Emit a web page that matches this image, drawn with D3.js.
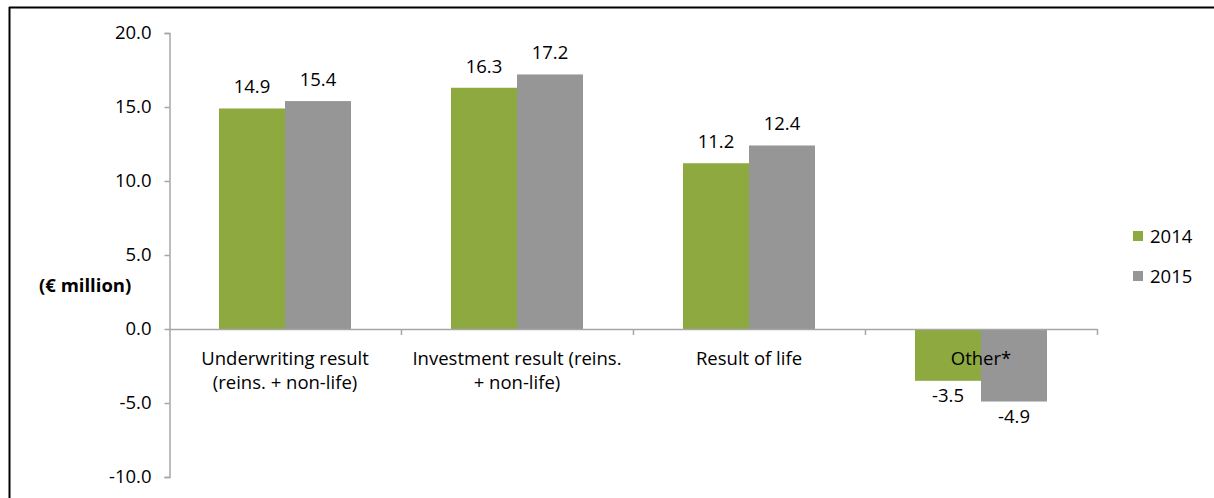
<!DOCTYPE html>
<html><head><meta charset="utf-8">
<script src="https://cdn.jsdelivr.net/npm/d3@7"></script>
<style>
body{margin:0;background:#fff;}
svg{display:block;font-family:"Open Sans",sans-serif;}
</style></head>
<body><svg id="c" width="1214" height="498"></svg>
<script>
const categories = [["Underwriting result","(reins. + non-life)"],["Investment result (reins.","+ non-life)"],["Result of life"],["Other*"]];
const series = ["2014","2015"];
const values2014 = [14.9, 16.3, 11.2, -3.5];
const values2015 = [15.4, 17.2, 12.4, -4.9];
const yTicks = [-10, -5, 0, 5, 10, 15, 20];
const colors = ["#8EA93F", "#969696"];
const unitLabel = "(€ million)";

const FS = 18.5;
const fmt = v => v.toFixed(1);
const svg = d3.select("#c");
// frame
svg.append("line").attr("x1",9.5).attr("x2",9.5).attr("y1",7).attr("y2",498).attr("stroke","#000").attr("stroke-width",2);
svg.append("line").attr("x1",9).attr("x2",1214).attr("y1",7.5).attr("y2",7.5).attr("stroke","#000").attr("stroke-width",2);

const y = d3.scaleLinear().domain([-10,20]).range([477,33]);
const x0 = d3.scaleBand().domain(d3.range(categories.length)).range([169,1097]).paddingInner(0).paddingOuter(0);
const x1 = d3.scaleBand().domain(series).range([50, 182]);

const axisColor = "#A6A6A6";
// y axis
const ya = d3.axisLeft(y).tickValues(yTicks).tickFormat(fmt).tickSize(5).tickPadding(13);
const yg = svg.append("g").attr("transform","translate(169.5,0)").call(ya);
yg.select(".domain").attr("stroke",axisColor).attr("stroke-width",1.5);
yg.selectAll(".tick line").attr("stroke",axisColor).attr("stroke-width",1.5);
yg.selectAll(".tick text").attr("fill","#000").attr("font-size",FS).attr("font-family","Open Sans");

// bars
const data = categories.map((c,i)=>({i, vals:[values2014[i], values2015[i]]}));
const g = svg.append("g");
data.forEach(d=>{
  d.vals.forEach((v,k)=>{
    const xb = x0(d.i) + x1(series[k]);
    g.append("rect").attr("x",xb).attr("width",x1.bandwidth())
      .attr("y",y(Math.max(0,v))).attr("height",Math.abs(y(v)-y(0)))
      .attr("fill",colors[k]);
    g.append("text").attr("x",xb + x1.bandwidth()/2)
      .attr("y", v>=0 ? y(v)-15 : y(v)+21)
      .attr("text-anchor","middle").attr("font-size",FS).attr("fill","#000")
      .text(fmt(v));
  });
});

// x axis at zero
svg.append("line").attr("x1",169).attr("x2",1097.5).attr("y1",y(0)+0.5).attr("y2",y(0)+0.5).attr("stroke",axisColor).attr("stroke-width",1.5);
d3.range(categories.length+1).forEach(i=>{
  const xx = 169 + i*x0.step();
  if(i>0) svg.append("line").attr("x1",xx+0.5).attr("x2",xx+0.5).attr("y1",y(0)).attr("y2",y(0)+6).attr("stroke",axisColor).attr("stroke-width",1.5);
});
categories.forEach((c,i)=>{
  const t = svg.append("text").attr("text-anchor","middle").attr("font-size",FS).attr("fill","#000");
  c.forEach((line,j)=>{
    t.append("tspan").attr("x", x0(i)+x0.bandwidth()/2).attr("y", 365 + j*24).text(line);
  });
});

// unit label
svg.append("text").attr("x",39).attr("y",292).attr("font-size",FS).attr("font-weight","bold").attr("fill","#000").text(unitLabel);

// legend
series.forEach((s,k)=>{
  const ly = 236 + k*40;
  svg.append("rect").attr("x",1133).attr("y",ly-5).attr("width",10).attr("height",10).attr("fill",colors[k]);
  svg.append("text").attr("x",1150).attr("y",ly+7).attr("font-size",FS).attr("fill","#000").text(s);
});
</script></body></html>
